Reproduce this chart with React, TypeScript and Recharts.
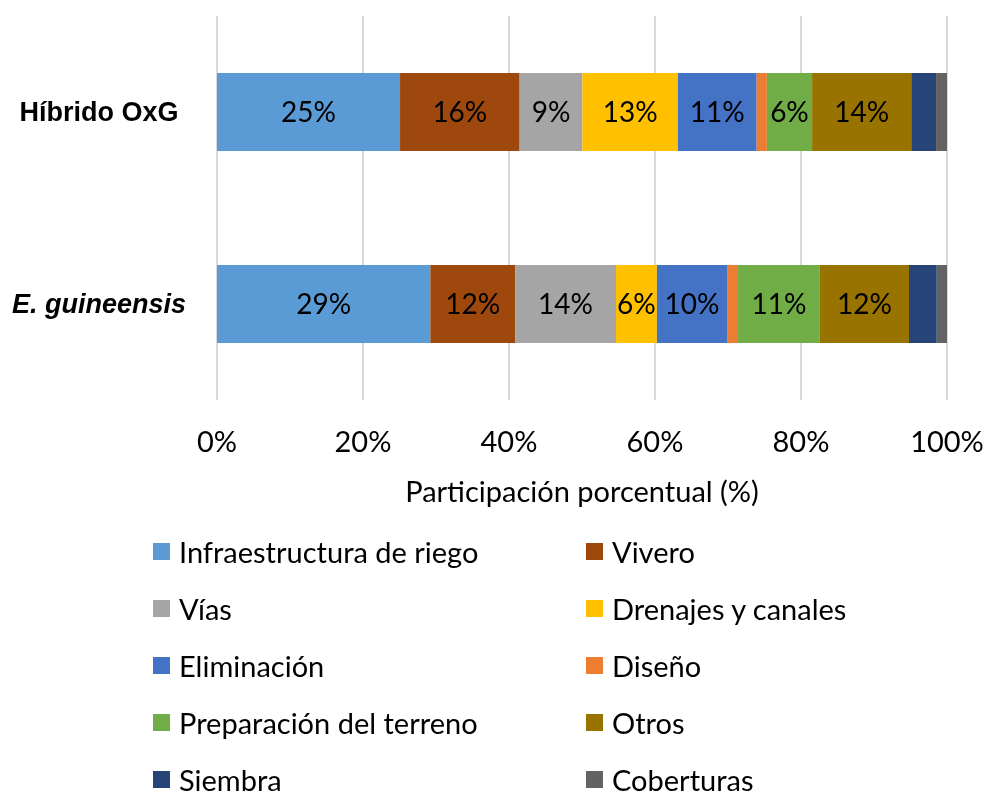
import React from 'react';
import { BarChart, Bar, XAxis, YAxis, CartesianGrid, Legend, LabelList } from 'recharts';

const categories = ['Híbrido OxG', 'E. guineensis'];

const seriesNames = [
  'Infraestructura de riego',
  'Vivero',
  'Vías',
  'Drenajes y canales',
  'Eliminación',
  'Diseño',
  'Preparación del terreno',
  'Otros',
  'Siembra',
  'Coberturas',
];

const infraestructura = [25.1, 29.2];
const vivero = [16.4, 11.6];
const vias = [8.6, 13.8];
const drenajes = [13.1, 5.6];
const eliminacion = [10.8, 9.6];
const diseno = [1.4, 1.5];
const preparacion = [6.2, 11.2];
const otros = [13.6, 12.2];
const siembra = [3.4, 3.8];
const coberturas = [1.5, 1.4];

const xTicks = [0, 0.2, 0.4, 0.6, 0.8, 1];

const seriesValues = [
  infraestructura, vivero, vias, drenajes, eliminacion,
  diseno, preparacion, otros, siembra, coberturas,
];

const colors = [
  '#5B9BD5', '#9E480E', '#A5A5A5', '#FFC000', '#4472C4',
  '#ED7D31', '#70AD47', '#997300', '#264478', '#636363',
];

const data = categories.map((name, i) => {
  const row: Record<string, any> = { name };
  seriesNames.forEach((s, j) => {
    row[s] = seriesValues[j][i];
  });
  return row;
});

const FONT = 'Lato, "Open Sans", sans-serif';
const TEXT_SIZE = 29;

const YTick = (props: any) => {
  const { y, payload } = props;
  const italic = payload.value.startsWith('E.');
  return (
    <text
      x={91}
      y={y}
      textAnchor="middle"
      dominantBaseline="central"
      fontFamily='"Liberation Sans", Arial, sans-serif'
      fontWeight="bold"
      fontStyle={italic ? 'italic' : 'normal'}
      fontSize={27}
      fill="#000"
    >
      {payload.value}
    </text>
  );
};

const XTick = (props: any) => {
  const { x, y, payload } = props;
  return (
    <text
      x={x}
      y={y}
      dy={32}
      textAnchor="middle"
      dominantBaseline="central"
      fontFamily={FONT}
      fontSize={TEXT_SIZE}
      fill="#000"
    >
      {`${Math.round(payload.value * 100)}%`}
    </text>
  );
};

const AxisTitle = (props: any) => {
  const vb = props.viewBox || {};
  return (
    <text
      x={vb.x + vb.width / 2}
      y={vb.y + 90}
      textAnchor="middle"
      dominantBaseline="central"
      fontFamily={FONT}
      fontSize={TEXT_SIZE}
      fill="#000"
    >
      Participación porcentual (%)
    </text>
  );
};

const LegendContent = (props: any) => {
  const payload = [...(props.payload || [])].sort(
    (a: any, b: any) => seriesNames.indexOf(a.value) - seriesNames.indexOf(b.value)
  );
  return (
    <div
      style={{
        display: 'grid',
        gridTemplateColumns: '433px 320px',
        gridAutoRows: '57px',
        fontFamily: FONT,
        fontSize: TEXT_SIZE,
        color: '#000',
      }}
    >
      {payload.map((entry: any) => (
        <div key={entry.value} style={{ display: 'flex', alignItems: 'center', whiteSpace: 'nowrap' }}>
          <span
            style={{
              display: 'inline-block',
              width: 17,
              height: 17,
              background: entry.color,
              marginRight: 9,
              flex: 'none',
            }}
          />
          <span>{entry.value}</span>
        </div>
      ))}
    </div>
  );
};

export default function App() {
  return (
    <div style={{ position: 'fixed', left: 8, top: 8 }}>
      <BarChart
        width={977}
        height={783}
        data={data}
        layout="vertical"
        stackOffset="expand"
        margin={{ top: 8, right: 38, left: 0, bottom: 291 }}
        barSize={78}
      >
        <CartesianGrid horizontal={false} vertical stroke="#D9D9D9" strokeWidth={2} />
        <XAxis
          type="number"
          domain={[0, 1]}
          ticks={xTicks}
          axisLine={false}
          tickLine={false}
          height={100}
          tick={<XTick />}
          label={{ content: <AxisTitle /> }}
          interval={0}
        />
        <YAxis
          type="category"
          dataKey="name"
          width={209}
          axisLine={false}
          tickLine={false}
          tick={<YTick />}
        />
        <Legend
          layout="vertical"
          align="center"
          verticalAlign="middle"
          itemSorter={null as any}
          wrapperStyle={{ top: 515, left: 145, width: 800 }}
          content={<LegendContent />}
        />
        {seriesNames.map((s, j) => (
          <Bar key={s} dataKey={s} stackId="a" fill={colors[j]} isAnimationActive={false}>
            <LabelList
              dataKey={s}
              position="center"
              formatter={(v: any) => (Number(v) >= 5 ? `${Math.round(Number(v))}%` : '')}
              style={{ fontFamily: FONT, fontSize: 28, fill: '#000' }}
            />
          </Bar>
        ))}
      </BarChart>
    </div>
  );
}
